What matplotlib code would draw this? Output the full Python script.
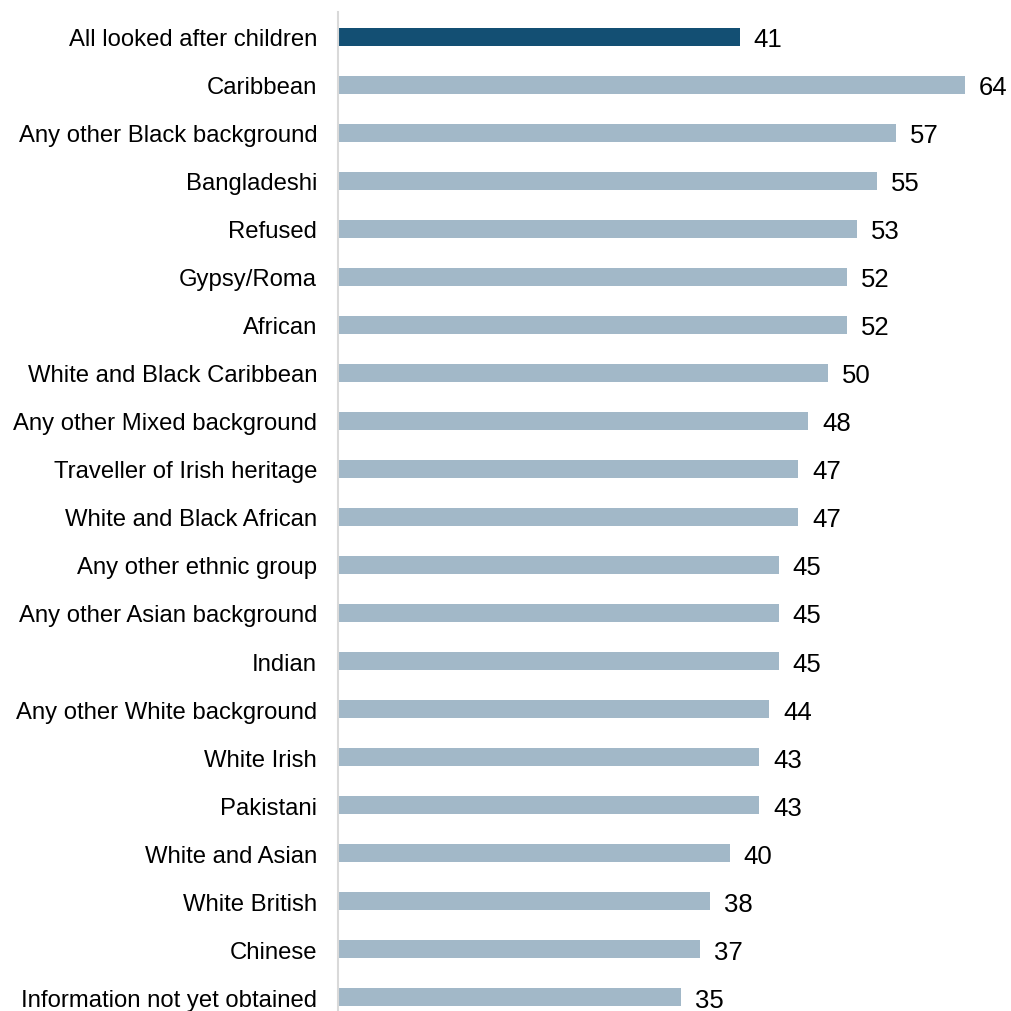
import matplotlib
matplotlib.use("Agg")
import matplotlib.pyplot as plt

plt.rcParams['font.family'] = ['Liberation Sans', 'DejaVu Sans']

# categories, top to bottom
categories = [
    "All looked after children",
    "Caribbean",
    "Any other Black background",
    "Bangladeshi",
    "Refused",
    "Gypsy/Roma",
    "African",
    "White and Black Caribbean",
    "Any other Mixed background",
    "Traveller of Irish heritage",
    "White and Black African",
    "Any other ethnic group",
    "Any other Asian background",
    "Indian",
    "Any other White background",
    "White Irish",
    "Pakistani",
    "White and Asian",
    "White British",
    "Chinese",
    "Information not yet obtained",
]
values = [41, 64, 57, 55, 53, 52, 52, 50, 48, 47, 47, 45, 45, 45, 44, 43, 43, 40, 38, 37, 35]

dark = "#134f73"
light = "#a2b8c8"
colors = [dark] + [light] * (len(values) - 1)

fig = plt.figure(figsize=(10.11, 10.12), dpi=100)
ax = fig.add_axes([338 / 1011, 0.0, 1 - 338 / 1011, 1 - 13 / 1012])

ypos = list(range(len(categories)))
ax.barh(ypos, values, height=0.375, color=colors)

for y, v in zip(ypos, values):
    ax.annotate(str(v), (v, y), xytext=(10, 0), textcoords="offset points",
                va="center_baseline", ha="left", fontsize=18.5, color="black")

ax.set_xlim(0, 68.7)
ax.set_ylim(20 + 14 / 48.05, -25 / 48.05)
ax.set_yticks(ypos)
ax.set_yticklabels(categories, fontsize=17.2, va="center_baseline")
ax.tick_params(axis="y", length=0, pad=15)
ax.set_xticks([])

for side in ["top", "right", "bottom"]:
    ax.spines[side].set_visible(False)
ax.spines["left"].set_color("#d9d9d9")
ax.spines["left"].set_linewidth(1.5)

fig.savefig("out.png", dpi=100)
